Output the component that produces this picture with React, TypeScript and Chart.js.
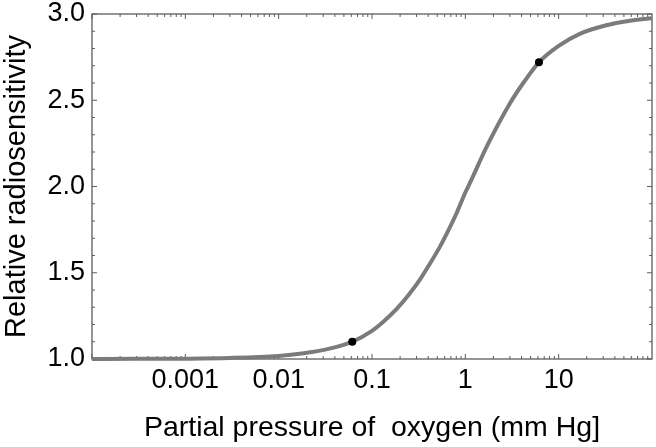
import { useEffect, useRef } from "react";
import { Chart, registerables } from "chart.js";

Chart.register(...registerables);

// Curve (partial pressure of oxygen, mm Hg -> relative radiosensitivity)
const pressure = [0.0001, 0.0003, 0.001, 0.003, 0.01, 0.0178, 0.035, 0.0615, 0.1, 0.135, 0.184, 0.25, 0.326, 0.42, 0.533, 0.65, 0.805, 1.0, 1.164, 1.69, 2.99, 4.3, 6.15, 10, 16.8, 32.4, 56, 100];
const sensitivity = [1.0, 1.001, 1.002, 1.006, 1.018, 1.032, 1.06, 1.1, 1.163, 1.22, 1.29, 1.375, 1.46, 1.555, 1.65, 1.74, 1.845, 1.965, 2.04, 2.23, 2.48, 2.61, 2.72, 2.815, 2.885, 2.935, 2.96, 2.975];

// Marked points
const markedPressure = [0.0615, 6.15];
const markedSensitivity = [1.1, 2.72];

// Axis labels
const xTickLabels = [0.001, 0.01, 0.1, 1, 10];
const yTickLabels = [1.0, 1.5, 2.0, 2.5, 3.0];

const FONT = "'Liberation Sans', Arial, Helvetica, sans-serif";

const framePlugin = {
  id: "frameTicks",
  beforeDatasetsDraw(chart: any) {
    const { ctx, chartArea, scales } = chart;
    const { left, right, top, bottom } = chartArea;
    const xs = scales.x;
    const ys = scales.y;
    ctx.save();
    ctx.strokeStyle = "#5c5c5c";
    ctx.lineWidth = 1.3;
    ctx.strokeRect(left, top, right - left, bottom - top);
    ctx.lineWidth = 1;
    ctx.beginPath();
    for (let e = -4; e <= 1; e++) {
      for (let m = 1; m <= 9; m++) {
        const v = m * Math.pow(10, e);
        const px = xs.getPixelForValue(v);
        if (px < left - 0.5 || px > right + 0.5) continue;
        const len = m === 1 ? 5 : 3;
        ctx.moveTo(px, bottom);
        ctx.lineTo(px, bottom - len);
        ctx.moveTo(px, top);
        ctx.lineTo(px, top + len);
      }
    }
    const yMin = yTickLabels[0];
    const yMax = yTickLabels[yTickLabels.length - 1];
    const steps = Math.round((yMax - yMin) / 0.1);
    for (let i = 0; i <= steps; i++) {
      const v = yMin + i * 0.1;
      const py = ys.getPixelForValue(v);
      const len = i % 5 === 0 ? 5 : 3;
      ctx.moveTo(left, py);
      ctx.lineTo(left + len, py);
      ctx.moveTo(right, py);
      ctx.lineTo(right - len, py);
    }
    ctx.stroke();
    ctx.restore();
  },
};

export default function App() {
  const canvasRef = useRef<HTMLCanvasElement | null>(null);

  useEffect(() => {
    document.body.style.margin = "0";
    const canvas = canvasRef.current;
    if (!canvas) return;

    const chart = new Chart(canvas, {
      type: "line",
      data: {
        datasets: [
          {
            label: "points",
            data: markedPressure.map((p, i) => ({ x: p, y: markedSensitivity[i] })),
            showLine: false,
            pointRadius: 4,
            pointBackgroundColor: "#000",
            pointBorderColor: "#000",
            pointBorderWidth: 0,
            clip: false,
          } as any,
          {
            label: "curve",
            data: pressure.map((p, i) => ({ x: p, y: sensitivity[i] })),
            borderColor: "#7b7b7b",
            borderWidth: 4,
            pointRadius: 0,
            fill: false,
            cubicInterpolationMode: "monotone",
            clip: false,
          } as any,
        ],
      },
      options: {
        animation: false,
        responsive: false,
        maintainAspectRatio: false,
        layout: { padding: { top: 14, right: 2, left: 0, bottom: 0 } },
        plugins: { legend: { display: false }, tooltip: { enabled: false } },
        scales: {
          x: {
            type: "logarithmic",
            min: 0.0001,
            max: 100,
            grid: { display: false, drawTicks: false },
            border: { display: false },
            ticks: {
              autoSkip: false,
              maxRotation: 0,
              padding: 5,
              color: "#000",
              font: { family: FONT, size: 27 },
              callback: (value: any) => {
                const v = Number(value);
                const hit = xTickLabels.find((t) => Math.abs(Math.log10(v) - Math.log10(t)) < 1e-6);
                return hit === undefined ? "" : String(hit);
              },
            },
            title: {
              display: true,
              text: "Partial pressure of  oxygen (mm Hg]",
              color: "#000",
              font: { family: FONT, size: 28.5 },
              padding: { top: 0, bottom: 2 },
            },
            afterFit: (scale: any) => {
              scale.height = 88;
              scale.paddingLeft = 0;
              scale.paddingRight = 0;
            },
          },
          y: {
            type: "linear",
            min: 1,
            max: 3,
            grid: { display: false, drawTicks: false },
            border: { display: false },
            afterBuildTicks: (scale: any) => {
              scale.ticks = yTickLabels.map((v) => ({ value: v }));
            },
            ticks: {
              padding: 7,
              color: "#000",
              font: { family: FONT, size: 27 },
              callback: (value: any) => Number(value).toFixed(1),
            },
            title: {
              display: true,
              text: "Relative radiosensitivity",
              color: "#000",
              font: { family: FONT, size: 29 },
              padding: { top: 0, bottom: 0 },
            },
            afterFit: (scale: any) => {
              scale.width = 92;
              scale.paddingTop = 0;
              scale.paddingBottom = 0;
            },
          },
        },
      },
      plugins: [framePlugin],
    });

    return () => {
      chart.destroy();
    };
  }, []);

  return (
    <div style={{ width: 656, height: 447 }}>
      <canvas ref={canvasRef} width={656} height={447} style={{ display: "block" }} />
    </div>
  );
}
